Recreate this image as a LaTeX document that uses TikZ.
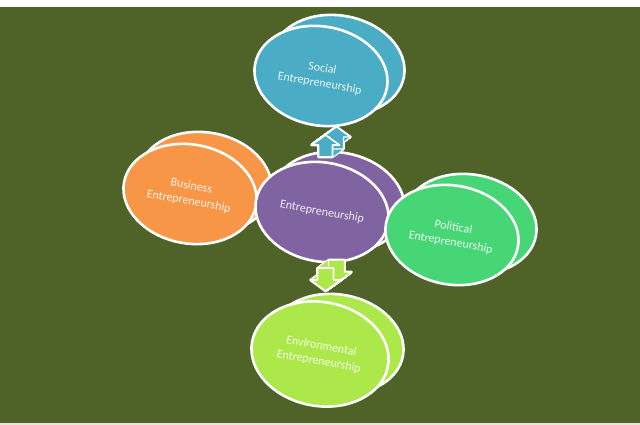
\documentclass[tikz,border=0pt]{standalone}
\usepackage{fontspec}
\setmainfont{Carlito}
\usetikzlibrary{shapes.geometric,calc}
\definecolor{bg}{HTML}{4F6228}
\definecolor{cteal}{HTML}{4BACC6}
\definecolor{corange}{HTML}{F79646}
\definecolor{cpurple}{HTML}{8064A2}
\definecolor{cgreen}{HTML}{47D676}
\definecolor{clime}{HTML}{ADE84A}
\definecolor{edgegrey}{HTML}{E4E6DC}
\newcommand{\uparrowshape}{(0,-10) -- (14,0) -- (7,0) -- (7,12) -- (-7,12) -- (-7,0) -- (-14,0) -- cycle}
\newcommand{\downarrowshape}{(-8,-12) -- (8,-12) -- (8,0) -- (15,0) -- (0,11) -- (-15,0) -- (-8,0) -- cycle}
\newcommand{\blockarrow}[3]{%
  \foreach \t in {0,0.05,...,1.001}
    \path[shift={(#1)}, xshift=\t*11pt, yshift=\t*8pt, draw=white, fill=white, line width=2.6pt, line join=round] #3;
  \foreach \t in {0,0.05,...,1.001}
    \path[shift={(#1)}, xshift=\t*11pt, yshift=\t*8pt, fill=#2] #3;
  \path[shift={(#1)}, xshift=11pt, yshift=8pt, draw=white, line width=1.2pt, line join=round] #3;
  \path[shift={(#1)}, draw=white, fill=#2, line width=1.6pt, line join=round] #3;
}
\begin{document}
\begin{tikzpicture}[x=1pt,y=-1pt,
  bubback/.style={ellipse, draw=white, line width=2.6pt, fill=#1,
    minimum width=134pt, minimum height=99pt, inner sep=0pt, rotate=-10},
  bub/.style={bubback=#1, align=center, text=white!88!#1,
    font=\fontsize{12}{15.5}\selectfont}]
\useasboundingbox (0,0) rectangle (640,425);
\fill[white] (0,0) rectangle (640,425);
\fill[bg] (0,7) rectangle (640,423);
\fill[edgegrey] (0,423) rectangle (640,425);

% centres
\coordinate (sc) at (321,76);
\coordinate (bc) at (190,194);
\coordinate (ec) at (322,212);
\coordinate (pc) at (452,235);
\coordinate (vc) at (320,354);

% Social
\node[bubback=cteal] (socialback) at ([shift={(17,-11)}]sc) {};
\node[bub=cteal] (social) at (sc) {Social\\Entrepreneurship};
% Environmental
\node[bubback=clime] (envback) at ([shift={(17,-10)}]vc) {};
\node[bub=clime, minimum width=138pt, minimum height=104pt] (env) at (vc) {Environmental\\Entrepreneurship};
% Business
\node[bubback=corange] (busback) at ([shift={(15,-12)}]bc) {};
\node[bub=corange] (business) at (bc) {Business\\Entrepreneurship};
% Entrepreneurship
\node[bubback=cpurple] (entback) at ([shift={(16,-10)}]ec) {};
\node[bub=cpurple] (entre) at (ec) {Entrepreneurship};
% Political
\node[bubback=cgreen] (polback) at ([shift={(18,-11)}]pc) {};
\node[bub=cgreen] (political) at (pc) {Political\\Entrepreneurship};

% block arrows
\coordinate (uparrow) at ($(social.south)!0.5!(entback.north)+(-4,6)$);
\coordinate (downarrow) at ($(entre.south)!0.5!(envback.north)+(-4,2)$);
\blockarrow{uparrow}{cteal}{\uparrowshape}
\blockarrow{downarrow}{clime}{\downarrowshape}
\end{tikzpicture}
\end{document}
